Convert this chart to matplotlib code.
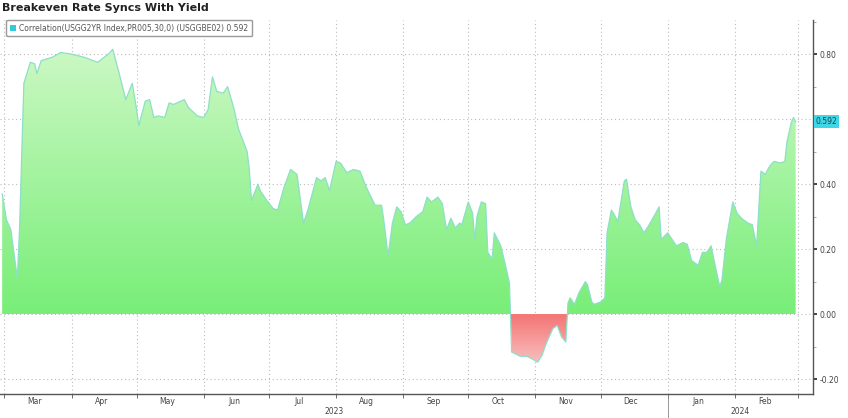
import numpy as np
import pandas as pd
import matplotlib
matplotlib.use('Agg')
import matplotlib.pyplot as plt
import matplotlib.dates as mdates
from matplotlib.path import Path
from matplotlib.patches import Patch
from matplotlib.colors import LinearSegmentedColormap

title = 'Breakeven Rate Syncs With Yield'
legend_text = 'Correlation(USGG2YR Index,PR005,30,0) (USGGBE02) 0.592'
last_value = 0.592

dates = [
    '2023-02-28', '2023-03-02', '2023-03-04', '2023-03-07', '2023-03-08', '2023-03-10',
    '2023-03-13', '2023-03-15', '2023-03-16', '2023-03-18', '2023-03-23', '2023-03-27',
    '2023-04-01', '2023-04-07', '2023-04-13', '2023-04-18', '2023-04-20', '2023-04-23',
    '2023-04-26', '2023-04-29', '2023-05-01', '2023-05-02', '2023-05-05', '2023-05-07',
    '2023-05-09', '2023-05-11', '2023-05-14', '2023-05-16', '2023-05-18', '2023-05-23',
    '2023-05-25', '2023-05-29', '2023-06-01', '2023-06-03', '2023-06-05', '2023-06-07',
    '2023-06-10', '2023-06-12', '2023-06-15', '2023-06-17', '2023-06-21', '2023-06-22',
    '2023-06-23', '2023-06-26', '2023-06-27', '2023-06-30', '2023-07-03', '2023-07-05',
    '2023-07-08', '2023-07-11', '2023-07-14', '2023-07-15', '2023-07-17', '2023-07-19',
    '2023-07-23', '2023-07-25', '2023-07-27', '2023-07-29', '2023-08-01', '2023-08-03',
    '2023-08-06', '2023-08-09', '2023-08-12', '2023-08-15', '2023-08-19', '2023-08-22',
    '2023-08-23', '2023-08-25', '2023-08-27', '2023-08-29', '2023-08-31', '2023-09-02',
    '2023-09-04', '2023-09-07', '2023-09-10', '2023-09-12', '2023-09-14', '2023-09-17',
    '2023-09-19', '2023-09-21', '2023-09-23', '2023-09-25', '2023-09-27', '2023-09-28',
    '2023-10-01', '2023-10-03', '2023-10-04', '2023-10-05', '2023-10-07', '2023-10-09',
    '2023-10-10', '2023-10-12', '2023-10-13', '2023-10-16', '2023-10-18', '2023-10-20',
    '2023-10-21', '2023-10-25', '2023-10-28', '2023-10-31', '2023-11-02', '2023-11-04',
    '2023-11-06', '2023-11-09', '2023-11-11', '2023-11-13', '2023-11-15', '2023-11-16',
    '2023-11-17', '2023-11-19', '2023-11-21', '2023-11-24', '2023-11-25', '2023-11-27',
    '2023-11-28', '2023-12-01', '2023-12-03', '2023-12-04', '2023-12-06', '2023-12-07',
    '2023-12-09', '2023-12-11', '2023-12-12', '2023-12-13', '2023-12-15', '2023-12-17',
    '2023-12-19', '2023-12-21', '2023-12-23', '2023-12-26', '2023-12-28', '2023-12-29',
    '2024-01-01', '2024-01-03', '2024-01-05', '2024-01-08', '2024-01-10', '2024-01-12',
    '2024-01-15', '2024-01-17', '2024-01-19', '2024-01-21', '2024-01-23', '2024-01-25',
    '2024-01-26', '2024-01-28', '2024-01-31', '2024-02-02', '2024-02-04', '2024-02-07',
    '2024-02-09', '2024-02-11', '2024-02-13', '2024-02-15', '2024-02-17', '2024-02-19',
    '2024-02-22', '2024-02-24', '2024-02-25', '2024-02-27', '2024-02-28', '2024-02-29',
]
values = [
    0.37, 0.29, 0.26, 0.11, 0.26, 0.71,
    0.775, 0.77, 0.74, 0.78, 0.79, 0.805,
    0.80, 0.79, 0.775, 0.80, 0.815, 0.74,
    0.66, 0.71, 0.63, 0.58, 0.655, 0.66,
    0.605, 0.61, 0.605, 0.65, 0.645, 0.66,
    0.635, 0.61, 0.605, 0.63, 0.73, 0.685,
    0.68, 0.70, 0.63, 0.57, 0.50, 0.445,
    0.35, 0.40, 0.38, 0.35, 0.325, 0.32,
    0.39, 0.445, 0.43, 0.38, 0.28, 0.32,
    0.42, 0.41, 0.42, 0.38, 0.47, 0.465,
    0.435, 0.445, 0.44, 0.39, 0.335, 0.335,
    0.29, 0.18, 0.28, 0.33, 0.315, 0.275,
    0.28, 0.30, 0.315, 0.36, 0.345, 0.36,
    0.34, 0.26, 0.295, 0.265, 0.28, 0.275,
    0.345, 0.31, 0.23, 0.30, 0.345, 0.34,
    0.19, 0.17, 0.25, 0.21, 0.155, 0.095,
    -0.117, -0.13, -0.13, -0.14, -0.148, -0.127,
    -0.09, -0.045, -0.035, -0.07, -0.086, 0.035,
    0.05, 0.03, 0.065, 0.10, 0.09, 0.037,
    0.03, 0.037, 0.05, 0.25, 0.32, 0.31,
    0.285, 0.37, 0.41, 0.415, 0.33, 0.29,
    0.275, 0.25, 0.27, 0.305, 0.33, 0.23,
    0.25, 0.23, 0.21, 0.22, 0.215, 0.165,
    0.15, 0.19, 0.19, 0.21, 0.145, 0.085,
    0.105, 0.23, 0.345, 0.31, 0.295, 0.28,
    0.275, 0.21, 0.44, 0.43, 0.455, 0.47,
    0.465, 0.47, 0.53, 0.59, 0.605, 0.592,
]
month_labels = ['Mar', 'Apr', 'May', 'Jun', 'Jul', 'Aug', 'Sep', 'Oct', 'Nov', 'Dec', 'Jan', 'Feb']
year_labels = ['2023', '2024']
y_ticks = [-0.2, 0.0, 0.2, 0.4, 0.6, 0.8]

x = mdates.date2num(pd.to_datetime(dates))
v = np.array(values)

x_min = mdates.date2num(pd.Timestamp('2023-02-27'))
x_max = mdates.date2num(pd.Timestamp('2024-03-08'))
y_min, y_max = -0.246, 0.905

fig = plt.figure(figsize=(8.48, 4.18), dpi=100)
ax = fig.add_axes([0.0, 24 / 418, 813 / 848, 374 / 418])


def gradient_fill(mask, c_low, c_high, y_lo, y_hi):
    coll = ax.fill_between(x, v, 0, where=mask, interpolate=True,
                           facecolor='none', edgecolor='none')
    path = Path.make_compound_path(*coll.get_paths())
    cmap = LinearSegmentedColormap.from_list('grad', [c_low, c_high])
    grad = np.linspace(0, 1, 256).reshape(-1, 1)
    im = ax.imshow(grad, cmap=cmap, extent=[x_min, x_max, y_lo, y_hi],
                   origin='lower', aspect='auto', zorder=1, interpolation='bilinear')
    im.set_clip_path(path, ax.transData)


gradient_fill(v >= 0, '#78ee78', '#ccf8c4', 0, 0.82)
gradient_fill(v <= 0, '#f9c4c4', '#f47474', -0.16, 0)
ax.plot(x, v, color='#8ddfc8', lw=0.9, zorder=2)

ax.set_xlim(x_min, x_max)
ax.set_ylim(y_min, y_max)

# x axis: gridlines at month starts, labels mid-month
ax.xaxis.set_major_locator(mdates.MonthLocator())
ax.xaxis.set_major_formatter(plt.NullFormatter())
ax.xaxis.set_minor_locator(mdates.MonthLocator(bymonthday=15))
ax.xaxis.set_minor_formatter(plt.FixedFormatter(month_labels))
ax.tick_params(axis='x', which='major', length=3, color='#555555', width=0.6)
ax.tick_params(axis='x', which='minor', length=0, labelsize=5.5, labelcolor='#444444', pad=2)

# y axis on the right
ax.yaxis.tick_right()
ax.set_yticks(y_ticks)
ax.set_yticklabels(['%.2f' % t if abs(t - 0.6) > 1e-9 else '' for t in y_ticks])
ax.set_yticks(np.arange(-0.2, 0.91, 0.1), minor=True)
ax.tick_params(axis='y', which='major', length=3, width=1.2, color='#222222',
               labelsize=5.5, labelcolor='#444444', pad=1.5)
ax.tick_params(axis='y', which='minor', length=2, width=0.5, color='#888888')

ax.grid(which='major', linestyle=(0, (1, 2.5)), color='#bbbbbb', lw=0.8, zorder=0)
ax.set_axisbelow(True)

for side in ['left', 'top']:
    ax.spines[side].set_visible(False)
for side in ['bottom', 'right']:
    ax.spines[side].set_color('#555555')
    ax.spines[side].set_linewidth(1.0)

# year labels and separator
jan1 = mdates.date2num(pd.Timestamp('2024-01-01'))
ax.plot([jan1, jan1], [0, -0.07], transform=ax.get_xaxis_transform(),
        color='#888888', lw=0.6, clip_on=False)
ax.text((x_min + jan1) / 2, -0.036, year_labels[0], transform=ax.get_xaxis_transform(),
        ha='center', va='top', fontsize=5.5, color='#444444')
ax.text((jan1 + x_max) / 2, -0.036, year_labels[1], transform=ax.get_xaxis_transform(),
        ha='center', va='top', fontsize=5.5, color='#444444')

# last value tag
ax.text(1.003, last_value, '%.3f' % last_value, transform=ax.get_yaxis_transform(),
        ha='left', va='center', fontsize=5.5, color='#114455',
        bbox=dict(boxstyle='square,pad=0.25', facecolor='#3fd6e6', edgecolor='none'))

fig.text(0.002, 0.992, title, fontsize=8, fontweight='bold', va='top', ha='left', color='#222222')
fig.legend(handles=[Patch(facecolor='#36c9dc', edgecolor='none')], labels=[legend_text],
           loc='upper left', bbox_to_anchor=(0.003, 1 - 16 / 418), fontsize=5.5,
           frameon=True, fancybox=True, edgecolor='#999999', framealpha=1,
           handlelength=0.8, handleheight=0.8, handletextpad=0.4, borderpad=0.5,
           labelcolor='#555555')

fig.savefig('out.png', dpi=100)
